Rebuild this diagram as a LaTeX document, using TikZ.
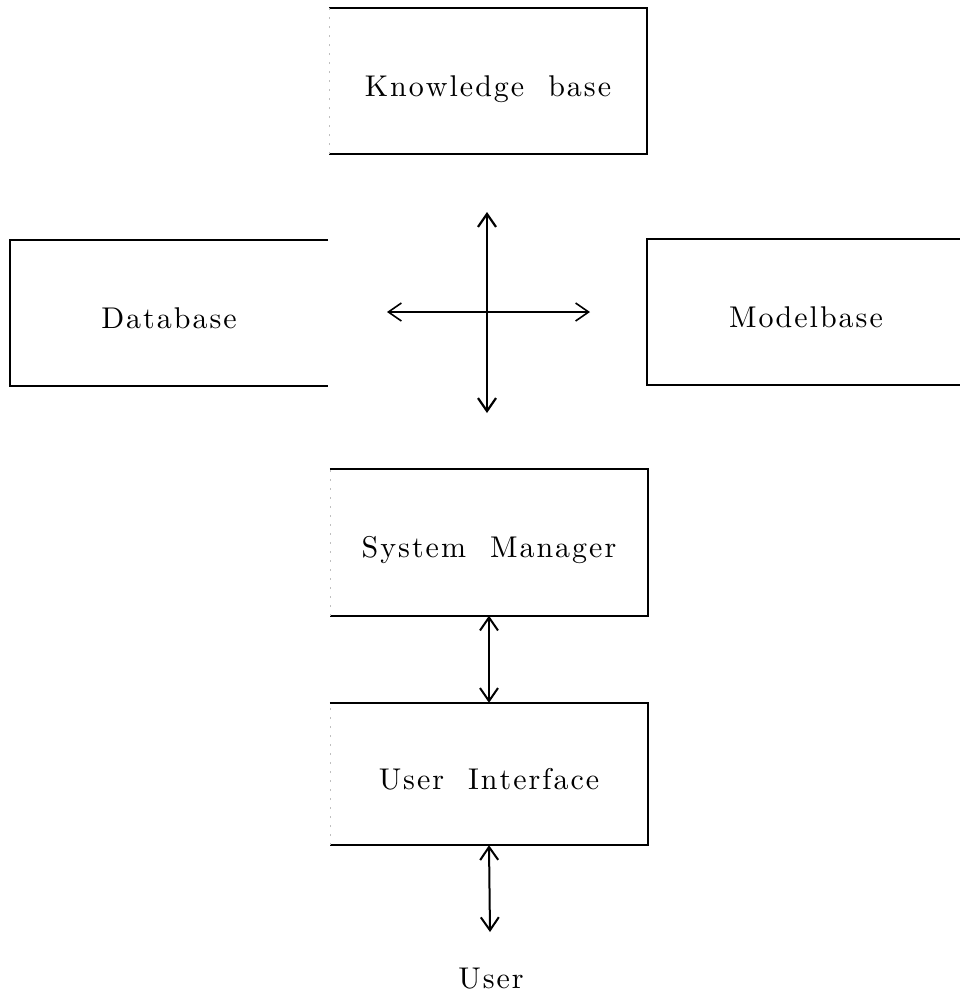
\documentclass[tikz,border=0pt]{standalone}
\usepackage{fontspec}
\usetikzlibrary{arrows.meta}
\newfontfamily\lbfont{lmroman10-regular.otf}
\newdimen\lspk \lspk=2pt
\makeatletter
\newcommand\lsp[1]{\def\lspsep{}\@tfor\lsptok:=#1\do{\lspsep\lsptok\def\lspsep{\kern\lspk}}}
\makeatother
\newcommand\lsw{\kern 24pt}
\begin{document}
\begin{tikzpicture}[x=1pt,y=1pt,
  lbl/.style={font=\lbfont\fontsize{30}{34}\selectfont},
  box/.style={lbl, minimum width=318pt, minimum height=146pt, inner sep=0pt, text height=30pt, text depth=0pt},
  edge/.style={line width=1.8pt, line join=miter},
  faint/.style={line width=0.6pt, black!25, dash pattern=on 2pt off 7pt},
  link/.style={line width=2pt, {Straight Barb[length=13pt,width=18pt]}-{Straight Barb[length=13pt,width=18pt]}}]
\useasboundingbox (0,0) rectangle (960,-997);
% boxes
\node[box] (kb) at (488,-81) {\lsp{Knowledge}\lsw\lsp{base}};
\node[box] (db) at (169,-313) {\lsp{Database}};
\node[box] (mb) at (806,-312) {\lsp{Modelbase}};
\node[box] (sm) at (489,-542.5) {\lsp{System}\lsw\lsp{Manager}};
\node[box, minimum height=142pt] (ui) at (489,-774) {\lsp{User}\lsw\lsp{Interface}};
\node[lbl, anchor=base] (user) at (491,-988) {\lsp{User}};
% box outlines
\draw[edge] (kb.north west) -- (kb.north east) -- (kb.south east) -- (kb.south west);
\draw[faint] (kb.south west) -- (kb.north west);
\draw[edge] (sm.north west) -- (sm.north east) -- (sm.south east) -- (sm.south west);
\draw[faint] (sm.south west) -- (sm.north west);
\draw[edge] (ui.north west) -- (ui.north east) -- (ui.south east) -- (ui.south west);
\draw[faint] (ui.south west) -- (ui.north west);
\draw[edge] (db.north east) -- (db.north west) -- (db.south west) -- (db.south east);
\draw[edge] (mb.north east) -- (mb.north west) -- (mb.south west) -- (mb.south east);
% central cross
\coordinate (vt) at (487,-212);
\coordinate (vb) at (487,-413);
\coordinate (hl) at (387,-312);
\coordinate (hr) at (590,-312);
\draw[link, line width=2.2pt] (vt) -- (vb);
\draw[link, line width=1.6pt] (hl) -- (hr);
% vertical links
\draw[link] (sm.south) -- (ui.north);
\coordinate (ue) at (490,-932);
\draw[link] (ui.south) -- (ue);
\end{tikzpicture}
\end{document}
